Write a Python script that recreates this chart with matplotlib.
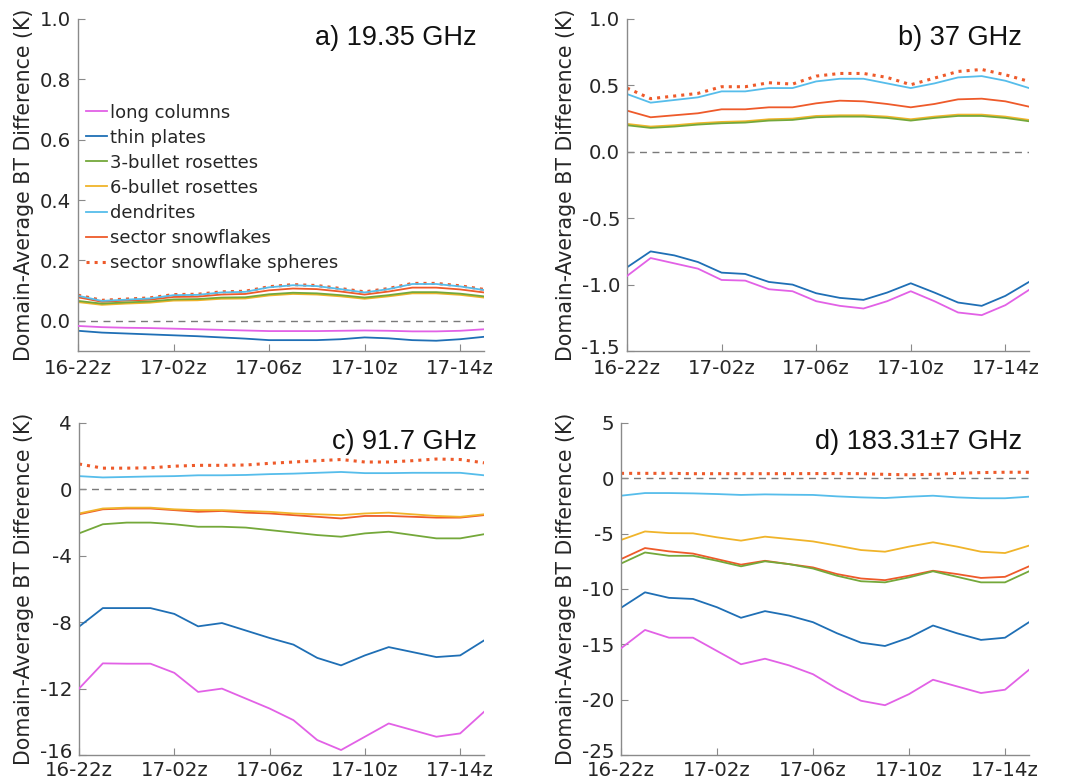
import matplotlib
matplotlib.use("Agg")
import matplotlib.pyplot as plt
import matplotlib.transforms as mtransforms
import numpy as np

# ---------------- data ----------------
hours = list(range(18))  # 16-22z ... 17-15z hourly
tick_pos = [0, 4, 8, 12, 16]
tick_labels = ["16-22z", "17-02z", "17-06z", "17-10z", "17-14z"]

names = ["long columns", "thin plates", "3-bullet rosettes", "6-bullet rosettes",
         "dendrites", "sector snowflakes", "sector snowflake spheres"]

titles = ["a) 19.35 GHz", "b) 37 GHz", "c) 91.7 GHz", "d) 183.31\u00b17 GHz"]

# panel a: 19.35 GHz
a_long = [-0.017, -0.021, -0.023, -0.024, -0.026, -0.028, -0.030, -0.032, -0.034,
          -0.034, -0.034, -0.033, -0.032, -0.033, -0.035, -0.035, -0.033, -0.028]
a_thin = [-0.033, -0.039, -0.042, -0.045, -0.048, -0.051, -0.055, -0.059, -0.064,
          -0.064, -0.064, -0.061, -0.055, -0.058, -0.064, -0.066, -0.061, -0.053]
a_bul3 = [0.066, 0.057, 0.061, 0.064, 0.071, 0.072, 0.077, 0.078, 0.088,
          0.093, 0.091, 0.085, 0.077, 0.085, 0.095, 0.095, 0.090, 0.081]
a_bul6 = [0.062, 0.053, 0.057, 0.060, 0.067, 0.068, 0.073, 0.074, 0.084,
          0.089, 0.087, 0.081, 0.073, 0.081, 0.091, 0.091, 0.086, 0.077]
a_dend = [0.083, 0.066, 0.070, 0.074, 0.085, 0.086, 0.094, 0.096, 0.111,
          0.118, 0.115, 0.105, 0.094, 0.105, 0.122, 0.122, 0.114, 0.102]
a_sect = [0.078, 0.063, 0.067, 0.070, 0.079, 0.080, 0.087, 0.089, 0.101,
          0.107, 0.105, 0.097, 0.087, 0.097, 0.110, 0.110, 0.104, 0.094]
a_sphr = [0.085, 0.068, 0.072, 0.076, 0.087, 0.088, 0.096, 0.098, 0.113,
          0.120, 0.117, 0.107, 0.096, 0.107, 0.124, 0.124, 0.116, 0.104]

# panel b: 37 GHz
b_long = [-0.935, -0.80, -0.84, -0.88, -0.965, -0.97, -1.035, -1.05, -1.125,
          -1.16, -1.18, -1.125, -1.05, -1.125, -1.21, -1.23, -1.155, -1.04]
b_thin = [-0.87, -0.75, -0.78, -0.83, -0.91, -0.92, -0.98, -1.00, -1.065,
          -1.10, -1.115, -1.06, -0.99, -1.06, -1.135, -1.16, -1.085, -0.98]
b_bul3 = [0.20, 0.18, 0.19, 0.205, 0.215, 0.22, 0.235, 0.24, 0.26,
          0.265, 0.265, 0.255, 0.235, 0.255, 0.27, 0.27, 0.255, 0.23]
b_bul6 = [0.21, 0.19, 0.20, 0.215, 0.225, 0.23, 0.245, 0.25, 0.27,
          0.275, 0.275, 0.265, 0.245, 0.265, 0.28, 0.28, 0.265, 0.24]
b_dend = [0.435, 0.37, 0.39, 0.41, 0.455, 0.455, 0.48, 0.48, 0.53,
          0.55, 0.55, 0.515, 0.48, 0.515, 0.56, 0.57, 0.535, 0.48]
b_sect = [0.31, 0.26, 0.275, 0.29, 0.32, 0.32, 0.335, 0.335, 0.365,
          0.385, 0.38, 0.36, 0.335, 0.36, 0.395, 0.40, 0.38, 0.34]
b_sphr = [0.48, 0.40, 0.42, 0.44, 0.49, 0.49, 0.52, 0.51, 0.57,
          0.59, 0.59, 0.56, 0.505, 0.555, 0.605, 0.62, 0.58, 0.53]

# panel c: 91.7 GHz
c_long = [-12.0, -10.48, -10.5, -10.5, -11.05, -12.2, -12.0, -12.6, -13.2,
          -13.9, -15.1, -15.7, -14.9, -14.1, -14.5, -14.9, -14.7, -13.4]
c_thin = [-8.27, -7.15, -7.15, -7.15, -7.5, -8.25, -8.05, -8.5, -8.95,
          -9.35, -10.15, -10.6, -10.0, -9.5, -9.8, -10.1, -10.0, -9.1]
c_bul3 = [-2.65, -2.1, -2.0, -2.0, -2.1, -2.25, -2.25, -2.3, -2.45,
          -2.6, -2.75, -2.85, -2.65, -2.55, -2.75, -2.95, -2.95, -2.7]
c_bul6 = [-1.45, -1.15, -1.1, -1.1, -1.2, -1.25, -1.25, -1.3, -1.35,
          -1.45, -1.5, -1.55, -1.45, -1.4, -1.5, -1.6, -1.65, -1.5]
c_dend = [0.8, 0.72, 0.75, 0.78, 0.8, 0.85, 0.85, 0.87, 0.92,
          0.95, 1.0, 1.05, 0.98, 0.98, 1.0, 1.0, 1.0, 0.85]
c_sect = [-1.5, -1.2, -1.15, -1.15, -1.25, -1.35, -1.3, -1.4, -1.45,
          -1.55, -1.65, -1.75, -1.6, -1.6, -1.65, -1.7, -1.7, -1.55]
c_sphr = [1.53, 1.28, 1.28, 1.3, 1.4, 1.45, 1.45, 1.47, 1.57,
          1.65, 1.73, 1.8, 1.65, 1.65, 1.73, 1.83, 1.8, 1.6]

# panel d: 183.31+-7 GHz
d_long = [-15.36, -13.7, -14.4, -14.4, -15.6, -16.8, -16.3, -16.9, -17.7,
          -19.0, -20.1, -20.5, -19.5, -18.2, -18.8, -19.4, -19.1, -17.3]
d_thin = [-11.7, -10.3, -10.8, -10.9, -11.65, -12.6, -12.0, -12.4, -13.0,
          -14.0, -14.85, -15.15, -14.4, -13.3, -14.0, -14.6, -14.4, -13.0]
d_bul3 = [-7.7, -6.7, -7.0, -7.0, -7.45, -7.95, -7.5, -7.75, -8.15,
          -8.8, -9.3, -9.4, -8.95, -8.4, -8.9, -9.4, -9.4, -8.4]
d_bul6 = [-5.57, -4.8, -4.95, -4.97, -5.33, -5.63, -5.27, -5.48, -5.7,
          -6.08, -6.48, -6.63, -6.17, -5.78, -6.17, -6.63, -6.75, -6.08]
d_dend = [-1.57, -1.33, -1.33, -1.36, -1.42, -1.5, -1.45, -1.48, -1.5,
          -1.63, -1.72, -1.78, -1.66, -1.57, -1.72, -1.8, -1.8, -1.66]
d_sect = [-7.3, -6.3, -6.6, -6.8, -7.3, -7.8, -7.45, -7.75, -8.05,
          -8.65, -9.05, -9.2, -8.8, -8.35, -8.65, -9.0, -8.9, -7.95]
d_sphr = [0.45, 0.45, 0.45, 0.42, 0.42, 0.42, 0.42, 0.42, 0.43,
          0.43, 0.42, 0.36, 0.32, 0.36, 0.45, 0.52, 0.55, 0.55]

ylims = [(-0.1, 1.0), (-1.5, 1.0), (-16, 4), (-25, 5)]
yticks = [[0.0, 0.2, 0.4, 0.6, 0.8, 1.0],
          [-1.5, -1.0, -0.5, 0.0, 0.5, 1.0],
          [-16, -12, -8, -4, 0, 4],
          [-25, -20, -15, -10, -5, 0, 5]]
yfmt = ["{:.1f}", "{:.1f}", "{:.0f}", "{:.0f}"]

panels = [
    [a_long, a_thin, a_bul3, a_bul6, a_dend, a_sect, a_sphr],
    [b_long, b_thin, b_bul3, b_bul6, b_dend, b_sect, b_sphr],
    [c_long, c_thin, c_bul3, c_bul6, c_dend, c_sect, c_sphr],
    [d_long, d_thin, d_bul3, d_bul6, d_dend, d_sect, d_sphr],
]

# ---------------- style ----------------
colors = ["#E261E6", "#1F6FB5", "#74A83A", "#F0B42A", "#56BDEB", "#EE5A2A", "#EE5A2A"]
styles = ["-", "-", "-", "-", "-", "-", ":"]
widths = [1.3, 1.3, 1.3, 1.3, 1.3, 1.3, 2.2]

plt.rcParams["font.family"] = ["DejaVu Sans"]
W, H = 1067, 784
fig = plt.figure(figsize=(W / 100, H / 100), dpi=100)

# axes boxes in pixels: left, right, top, bottom
boxes = [(78, 484, 19, 351), (627, 1029, 19, 351),
         (79, 484, 423, 755), (621, 1029, 423, 755)]

axc = "#8a8a8a"
txtc = "#262626"
for i, (l, r, t, b) in enumerate(boxes):
    ax = fig.add_axes([l / W, 1 - b / H, (r - l) / W, (b - t) / H])
    ax.axhline(0, color="#7a7a7a", lw=1.0, ls=(0, (5, 4)), zorder=1)
    for k, series in enumerate(panels[i]):
        ax.plot(hours, series, color=colors[k], ls=styles[k], lw=widths[k],
                label=names[k], zorder=2 + (6 - k) * 0.1)
    ax.set_xlim(0, 17)
    ax.set_ylim(*ylims[i])
    ax.set_xticks(tick_pos)
    ax.set_xticklabels(tick_labels)
    ax.set_yticks(yticks[i])
    ax.set_yticklabels([yfmt[i].format(v) for v in yticks[i]])
    for s in ["top", "right"]:
        ax.spines[s].set_visible(False)
    for s in ["left", "bottom"]:
        ax.spines[s].set_color(axc)
        ax.spines[s].set_linewidth(1.0)
    ax.tick_params(direction="in", length=5, width=0.8, color=axc,
                   labelsize=14.2, labelcolor=txtc)
    ax.tick_params(axis="x", pad=5.5 if i < 2 else 4.5)
    ax.tick_params(axis="y", pad=5)
    # nudge the y tick label sitting on the x axis up a little so it clears the x labels
    if yticks[i][0] == ylims[i][0]:
        lowest = ax.get_yticklabels()[0]
        lowest.set_transform(lowest.get_transform() +
                             mtransforms.ScaledTranslation(0, 3 / 72, fig.dpi_scale_trans))
    ax.set_ylabel("Domain-Average BT Difference (K)", fontsize=14.8, color=txtc,
                  labelpad=4)
    ax.text(0.982, 0.982, titles[i], transform=ax.transAxes, ha="right", va="top",
            fontsize=19.5, color="#111111", family="Liberation Sans")
    if i == 0:
        ax.legend(loc="upper left", bbox_to_anchor=(0.02, 0.745), frameon=False,
                  fontsize=13, handlelength=1.15, handletextpad=0.2,
                  labelspacing=0.39, borderpad=0, borderaxespad=0,
                  labelcolor=txtc)

fig.savefig("out.png", dpi=100)
